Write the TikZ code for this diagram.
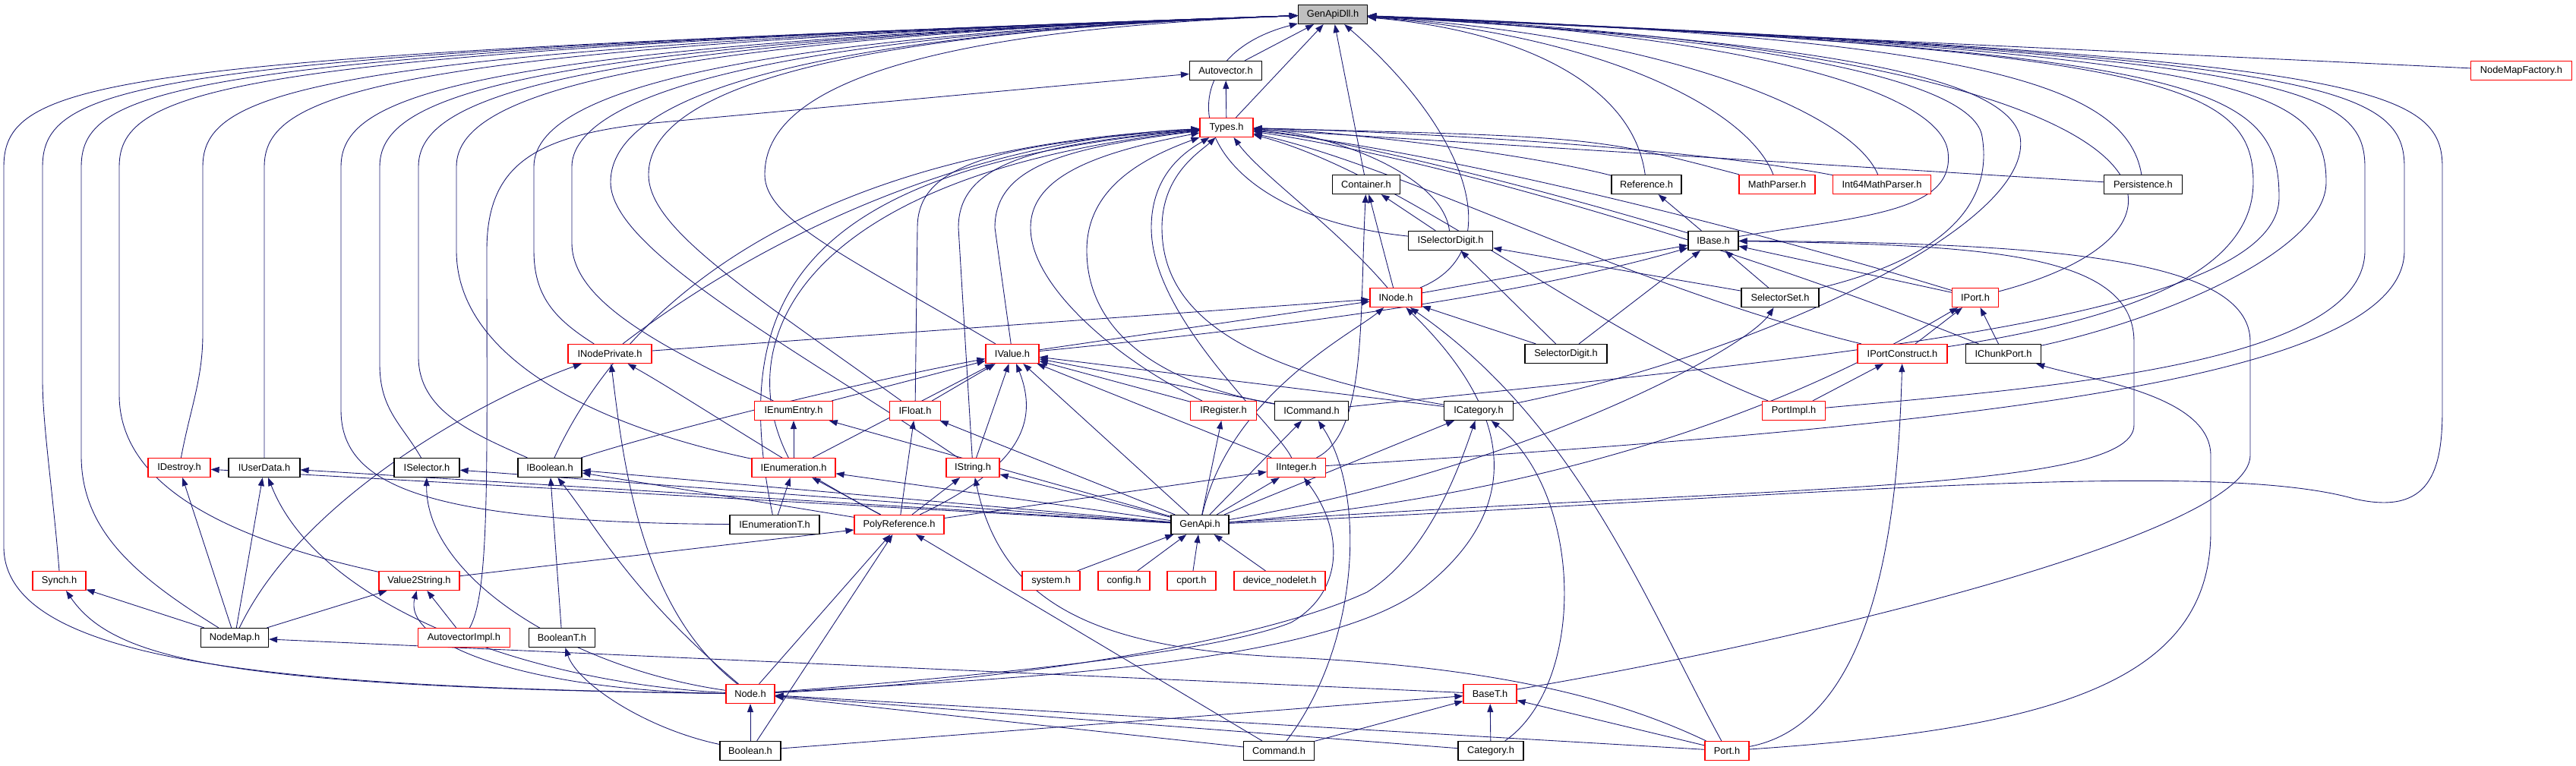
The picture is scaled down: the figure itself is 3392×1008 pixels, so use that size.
\documentclass[tikz,border=0pt]{standalone}
\usepackage{fontspec}
\setmainfont{Liberation Sans}
\usetikzlibrary{arrows.meta}
\definecolor{edgeblue}{RGB}{25,25,112}
\definecolor{hdrgray}{RGB}{191,191,191}
\pgfdeclarelayer{bg}
\pgfsetlayers{bg,main}
\begin{document}
\begin{tikzpicture}[x=0.02cm, y=-0.02cm,
    file/.style={draw=black, line width=0.7pt, fill=white, rectangle, minimum height=0.5cm, inner sep=1pt, font=\fontsize{7.3}{8}\selectfont},
    redfile/.style={file, draw=red},
    dep/.style={draw=edgeblue, line width=0.5pt, -{Triangle[length=0.22cm,width=0.16cm]}}]
    \useasboundingbox (0,0) rectangle (3392,1008);

    % Header files, top rows
    \node[file, fill=hdrgray, minimum width=1.82cm] (gd) at (1755,19) {GenApiDll.h};
    \node[file, minimum width=1.90cm] (av) at (1614,93) {Autovector.h};
    \node[redfile, minimum width=2.66cm] (nmf) at (3320,93) {NodeMapFactory.h};
    \node[redfile, minimum width=1.40cm] (ty) at (1615,168) {Types.h};
    \node[file, minimum width=1.78cm] (cont) at (1799,243) {Container.h};
    \node[file, minimum width=1.84cm] (ref) at (2168,243) {Reference.h};
    \node[redfile, minimum width=2.00cm] (mp) at (2340,243) {MathParser.h};
    \node[redfile, minimum width=2.58cm] (imp) at (2478,243) {Int64MathParser.h};
    \node[file, minimum width=2.06cm] (pers) at (2822,243) {Persistence.h};
    \node[file, minimum width=2.22cm] (isd) at (1910,317) {ISelectorDigit.h};
    \node[file, minimum width=1.32cm] (ibase) at (2256,317) {IBase.h};
    \node[redfile, minimum width=1.36cm] (inode) at (1838,392) {INode.h};
    \node[file, minimum width=2.04cm] (sset) at (2344,392) {SelectorSet.h};
    \node[redfile, minimum width=1.22cm] (iport) at (2601,392) {IPort.h};

    % Interface headers
    \node[redfile, minimum width=2.20cm] (inp) at (803,466) {INodePrivate.h};
    \node[redfile, minimum width=1.40cm] (ival) at (1333,466) {IValue.h};
    \node[file, minimum width=2.16cm] (sdig) at (2062,466) {SelectorDigit.h};
    \node[redfile, minimum width=2.36cm] (ipc) at (2505,466) {IPortConstruct.h};
    \node[file, minimum width=1.98cm] (icp) at (2638,466) {IChunkPort.h};
    \node[redfile, minimum width=2.06cm] (ient) at (1045,541) {IEnumEntry.h};
    \node[redfile, minimum width=1.34cm] (iflt) at (1205,541) {IFloat.h};
    \node[redfile, minimum width=1.74cm] (ireg) at (1611,541) {IRegister.h};
    \node[file, minimum width=1.94cm] (icmd) at (1727,541) {ICommand.h};
    \node[file, minimum width=1.82cm] (icat) at (1947,541) {ICategory.h};
    \node[redfile, minimum width=1.66cm] (pimpl) at (2362,541) {PortImpl.h};
    \node[redfile, minimum width=1.64cm] (ides) at (236,616) {IDestroy.h};
    \node[file, minimum width=1.88cm] (iud) at (348,616) {IUserData.h};
    \node[file, minimum width=1.72cm] (isel) at (562,616) {ISelector.h};
    \node[file, minimum width=1.68cm] (ibool) at (724,616) {IBoolean.h};
    \node[redfile, minimum width=2.20cm] (ienum) at (1045,616) {IEnumeration.h};
    \node[redfile, minimum width=1.40cm] (istr) at (1281,616) {IString.h};
    \node[redfile, minimum width=1.54cm] (iint) at (1707,616) {IInteger.h};
    \node[file, minimum width=2.36cm] (ientT) at (1020,691) {IEnumerationT.h};
    \node[redfile, minimum width=2.36cm] (poly) at (1184,691) {PolyReference.h};
    \node[file, minimum width=1.52cm] (ga) at (1580,691) {GenApi.h};

    % Implementation headers
    \node[redfile, minimum width=1.40cm] (synch) at (78,765) {Synch.h};
    \node[redfile, minimum width=2.12cm] (v2s) at (552,765) {Value2String.h};
    \node[redfile, minimum width=1.52cm] (sys) at (1384,765) {system.h};
    \node[redfile, minimum width=1.36cm] (cfg) at (1480,765) {config.h};
    \node[redfile, minimum width=1.28cm] (cport) at (1569,765) {cport.h};
    \node[redfile, minimum width=2.40cm] (devn) at (1685,765) {device\_nodelet.h};
    \node[file, minimum width=1.78cm] (nmap) at (309,840) {NodeMap.h};
    \node[redfile, minimum width=2.42cm] (avi) at (611,840) {AutovectorImpl.h};
    \node[file, minimum width=1.74cm] (boolT) at (740,840) {BooleanT.h};
    \node[redfile, minimum width=1.28cm] (node) at (988,914) {Node.h};
    \node[redfile, minimum width=1.40cm] (baseT) at (1962,914) {BaseT.h};
    \node[file, minimum width=1.60cm] (boolean) at (988,989) {Boolean.h};
    \node[file, minimum width=1.86cm] (cmd) at (1684,989) {Command.h};
    \node[file, minimum width=1.72cm] (cat) at (1963,989) {Category.h};
    \node[redfile, minimum width=1.16cm] (port) at (2274,989) {Port.h};

    \begin{pgfonlayer}{bg}
    % Includes of GenApiDll.h, left lanes
    \draw[dep] (node) .. controls (400,905) and (5,880) .. (5,720) -- (5,220) .. controls (5,100) and (150,75) .. (gd);
    \draw[dep] (synch.north) .. controls (70,650) and (56,560) .. (56,500) -- (56,220) .. controls (56,105) and (200,72) .. (gd);
    \draw[dep] (nmap) .. controls (180,760) and (107,700) .. (107,600) -- (107,220) .. controls (107,110) and (250,70) .. (gd);
    \draw[dep] (v2s) .. controls (300,710) and (157,640) .. (157,520) -- (157,220) .. controls (157,115) and (300,68) .. (gd);
    \draw[dep] (ides) .. controls (250,540) and (267,500) .. (267,440) -- (267,220) .. controls (267,120) and (400,65) .. (gd);
    \draw[dep] (iud) -- (348,220) .. controls (348,125) and (480,62) .. (gd);
    \draw[dep] (ientT) .. controls (560,688) and (449,640) .. (449,540) -- (449,220) .. controls (449,130) and (580,60) .. (gd);
    \draw[dep] (isel) .. controls (530,560) and (500,540) .. (500,480) -- (500,220) .. controls (500,135) and (630,58) .. (gd);
    \draw[dep] (ibool) .. controls (620,570) and (551,540) .. (551,470) -- (551,220) .. controls (551,140) and (680,56) .. (gd);
    \draw[dep] (ienum) .. controls (780,560) and (601,470) .. (601,330) -- (601,220) .. controls (601,145) and (730,54) .. (gd);
    \draw[dep] (inp) .. controls (730,420) and (703,390) .. (703,330) -- (703,220) .. controls (703,150) and (830,52) .. (gd);
    \draw[dep] (ient) .. controls (880,460) and (753,400) .. (753,320) -- (753,220) .. controls (753,155) and (880,50) .. (gd);
    \draw[dep] (istr) .. controls (1050,460) and (804,330) .. (804,240) .. controls (804,160) and (930,48) .. (gd);
    \draw[dep] (iflt) .. controls (980,380) and (854,300) .. (854,230) .. controls (854,150) and (980,46) .. (gd);
    \draw[dep] (ival) .. controls (1120,340) and (1007,290) .. (1007,230) .. controls (1007,150) and (1100,44) .. (gd);

    % Includes of GenApiDll.h, middle
    \draw[dep] (av) -- (gd);
    \draw[dep] (ty) -- (gd);
    \draw[dep] (cont) -- (gd);
    \draw[dep] (inode) .. controls (1990,330) and (1930,170) .. (gd);
    \draw[dep] (isd) .. controls (1560,280) and (1520,80) .. (gd);

    % Includes of GenApiDll.h, right lanes
    \draw[dep] (ref) .. controls (2150,110) and (2000,40) .. (gd);
    \draw[dep] (mp) .. controls (2300,140) and (2100,45) .. (gd);
    \draw[dep] (imp) .. controls (2440,150) and (2200,48) .. (gd);
    \draw[dep] (pers) .. controls (2800,110) and (2600,50) .. (gd);
    \draw[dep] (nmf) -- (gd);
    \draw[dep] (ibase) .. controls (2450,285) and (2575,280) .. (2565,200) .. controls (2555,120) and (2300,45) .. (gd);
    \draw[dep] (sset) .. controls (2600,330) and (2620,240) .. (2610,180) .. controls (2600,110) and (2350,50) .. (gd);
    \draw[dep] (iport) .. controls (2950,300) and (2900,70) .. (gd);
    \draw[dep] (icat) .. controls (2300,470) and (2680,300) .. (2660,180) .. controls (2640,100) and (2400,55) .. (gd);
    \draw[dep] (ipc) .. controls (2800,420) and (2967,360) .. (2967,240) .. controls (2967,110) and (2850,65) .. (gd);
    \draw[dep] (icmd) .. controls (2400,470) and (3001,420) .. (3001,260) .. controls (3001,110) and (2900,68) .. (gd);
    \draw[dep] (icp) .. controls (2850,420) and (3063,330) .. (3063,240) .. controls (3063,110) and (2950,70) .. (gd);
    \draw[dep] (pimpl) .. controls (2700,510) and (3114,480) .. (3114,330) -- (3114,220) .. controls (3114,110) and (3000,72) .. (gd);
    \draw[dep] (iint) .. controls (2600,560) and (3166,500) .. (3166,330) -- (3166,220) .. controls (3166,110) and (3050,74) .. (gd);
    \draw[dep] (ga) .. controls (2300,660) and (2900,600) .. (3100,657) .. controls (3200,680) and (3216,620) .. (3216,540) -- (3216,220) .. controls (3216,110) and (3100,76) .. (gd);

    % Autovector.h
    \draw[dep] (ty) -- (av);
    \draw[dep] (avi) .. controls (645,780) and (641,620) .. (641,330) .. controls (641,220) and (700,180) .. (850,163) -- (av);

    % Types.h
    \draw[dep] (inp) .. controls (980,330) and (1250,185) .. (ty);
    \draw[dep] (ienum) .. controls (960,450) and (1050,230) .. (ty);
    \draw[dep] (ientT) .. controls (960,400) and (1040,220) .. (ty);
    \draw[dep] (ibool) .. controls (800,450) and (1000,200) .. (ty);
    \draw[dep] (iflt) -- (1208,300) .. controls (1208,220) and (1300,190) .. (ty);
    \draw[dep] (istr) -- (1262,300) .. controls (1262,220) and (1350,190) .. (ty);
    \draw[dep] (ival) -- (1310,300) .. controls (1310,220) and (1400,195) .. (ty);
    \draw[dep] (ireg) .. controls (1480,480) and (1357,380) .. (1357,300) .. controls (1357,230) and (1450,200) .. (ty);
    \draw[dep] (icmd) .. controls (1500,500) and (1431,420) .. (1431,330) .. controls (1431,250) and (1500,210) .. (ty);
    \draw[dep] (iint) .. controls (1680,560) and (1516,420) .. (1516,300) .. controls (1516,230) and (1560,200) .. (ty);
    \draw[dep] (icat) .. controls (1650,490) and (1530,420) .. (1530,300) .. controls (1530,230) and (1580,200) .. (ty);
    \draw[dep] (inode) .. controls (1760,300) and (1660,230) .. (ty);
    \draw[dep] (isd) .. controls (1900,230) and (1750,175) .. (ty);
    \draw[dep] (ibase) .. controls (2000,240) and (1750,180) .. (ty);
    \draw[dep] (ref) .. controls (2000,200) and (1750,172) .. (ty);
    \draw[dep] (mp) .. controls (2100,180) .. (ty);
    \draw[dep] (imp) .. controls (2200,190) and (1800,172) .. (ty);
    \draw[dep] (pers) -- (ty);
    \draw[dep] (iport) .. controls (2300,300) and (1900,200) .. (ty);
    \draw[dep] (ipc) .. controls (2150,380) and (1850,220) .. (ty);
    \draw[dep] (icp) .. controls (2300,330) and (1900,210) .. (ty);
    \draw[dep] (pimpl) .. controls (2100,440) and (1850,230) .. (ty);

    % Container.h, Reference.h, ISelectorDigit.h
    \draw[dep] (inode) -- (cont);
    \draw[dep] (isd) -- (cont);
    \draw[dep] (iint) .. controls (1800,570) and (1790,420) .. (cont);
    \draw[dep] (ibase) -- (ref);
    \draw[dep] (sset) -- (isd);
    \draw[dep] (sdig) -- (isd);

    % IBase.h
    \draw[dep] (inode) -- (ibase);
    \draw[dep] (ival) .. controls (1700,430) and (2000,390) .. (ibase);
    \draw[dep] (sset) -- (ibase);
    \draw[dep] (sdig) -- (ibase);
    \draw[dep] (iport) -- (ibase);
    \draw[dep] (baseT) .. controls (2400,840) and (2963,700) .. (2963,600) -- (2963,450) .. controls (2963,340) and (2700,320) .. (ibase);
    \draw[dep] (ga) .. controls (2300,640) and (2810,650) .. (2810,560) -- (2810,450) .. controls (2810,330) and (2600,323) .. (ibase);

    % INode.h
    \draw[dep] (inp) -- (inode);
    \draw[dep] (ival) -- (inode);
    \draw[dep] (sdig) -- (inode);
    \draw[dep] (node) .. controls (1300,895) and (1750,880) .. (1880,770) .. controls (1990,680) and (2010,560) .. (inode);
    \draw[dep] (port) .. controls (2170,800) and (2080,560) .. (inode);
    \draw[dep] (ga) .. controls (1620,520) and (1780,440) .. (inode);

    % SelectorSet.h, IPort.h
    \draw[dep] (ga) .. controls (2000,620) and (2300,460) .. (sset);
    \draw[dep] (ipc) -- (iport);
    \draw[dep] (icp) -- (iport);
    \draw[dep] (ga) .. controls (2200,640) and (2500,450) .. (iport);

    % INodePrivate.h
    \draw[dep] (nmap) .. controls (400,650) and (650,520) .. (inp);
    \draw[dep] (node) .. controls (840,800) and (820,600) .. (inp);
    \draw[dep] (poly) .. controls (1050,620) and (900,520) .. (inp);

    % IValue.h
    \draw[dep] (ient) -- (ival);
    \draw[dep] (iflt) -- (ival);
    \draw[dep] (ireg) -- (ival);
    \draw[dep] (icmd) -- (ival);
    \draw[dep] (icat) -- (ival);
    \draw[dep] (ibool) .. controls (900,560) and (1150,500) .. (ival);
    \draw[dep] (ienum) -- (ival);
    \draw[dep] (istr) -- (ival);
    \draw[dep] (iint) -- (ival);
    \draw[dep] (poly) .. controls (1338,617) and (1370,560) .. (ival);
    \draw[dep] (ga) -- (ival);

    % IPortConstruct.h, IChunkPort.h
    \draw[dep] (pimpl) -- (ipc);
    \draw[dep] (port) .. controls (2480,950) and (2500,650) .. (ipc);
    \draw[dep] (port) .. controls (2700,960) and (2911,900) .. (2911,700) -- (2911,600) .. controls (2911,520) and (2750,500) .. (icp);

    % IEnumEntry.h, IFloat.h, IRegister.h, ICommand.h, ICategory.h
    \draw[dep] (ienum) -- (ient);
    \draw[dep] (ga) -- (ient);
    \draw[dep] (poly) -- (iflt);
    \draw[dep] (ga) -- (iflt);
    \draw[dep] (ga) -- (ireg);
    \draw[dep] (ga) -- (icmd);
    \draw[dep] (cmd) .. controls (1790,850) and (1800,650) .. (icmd);
    \draw[dep] (ga) -- (icat);
    \draw[dep] (node) .. controls (1300,900) and (1650,850) .. (1800,780) .. controls (1880,730) and (1920,620) .. (icat);
    \draw[dep] (cat) .. controls (2090,900) and (2085,650) .. (icat);

    % IDestroy.h, IUserData.h, ISelector.h, IBoolean.h
    \draw[dep] (ga) -- (ides);
    \draw[dep] (ga) -- (iud);
    \draw[dep] (ga) -- (isel);
    \draw[dep] (ga) -- (ibool);
    \draw[dep] (nmap) -- (ides);
    \draw[dep] (nmap) -- (iud);
    \draw[dep] (node) .. controls (700,900) and (420,800) .. (iud);
    \draw[dep] (node) .. controls (750,880) and (560,760) .. (isel);
    \draw[dep] (poly) -- (ibool);
    \draw[dep] (node) .. controls (830,780) and (790,700) .. (ibool);
    \draw[dep] (boolT) -- (ibool);

    % IEnumeration.h, IString.h, IInteger.h
    \draw[dep] (ientT) -- (ienum);
    \draw[dep] (poly) -- (ienum);
    \draw[dep] (ga) -- (ienum);
    \draw[dep] (poly) -- (istr);
    \draw[dep] (ga) -- (istr);
    \draw[dep] (port) .. controls (2150,930) and (2000,880) .. (1700,866) .. controls (1450,855) and (1320,800) .. (istr);
    \draw[dep] (poly) -- (iint);
    \draw[dep] (ga) -- (iint);
    \draw[dep] (node) .. controls (1300,890) and (1600,860) .. (1700,820) .. controls (1770,780) and (1770,700) .. (iint);

    % PolyReference.h, GenApi.h
    \draw[dep] (v2s) -- (poly);
    \draw[dep] (node) -- (poly);
    \draw[dep] (boolean) -- (poly);
    \draw[dep] (cmd) -- (poly);
    \draw[dep] (sys) -- (ga);
    \draw[dep] (cfg) -- (ga);
    \draw[dep] (cport) -- (ga);
    \draw[dep] (devn) -- (ga);

    % Synch.h, Value2String.h, NodeMap.h, BooleanT.h
    \draw[dep] (nmap) -- (synch);
    \draw[dep] (node) .. controls (300,905) and (150,870) .. (synch);
    \draw[dep] (nmap) -- (v2s);
    \draw[dep] (avi) -- (v2s);
    \draw[dep] (node) .. controls (700,910) and (530,850) .. (v2s);
    \draw[dep] (baseT) -- (nmap);
    \draw[dep] (boolean) .. controls (850,960) and (760,900) .. (boolT);

    % Node.h, BaseT.h
    \draw[dep] (boolean) -- (node);
    \draw[dep] (cmd) -- (node);
    \draw[dep] (cat) -- (node);
    \draw[dep] (port) -- (node);
    \draw[dep] (boolean) -- (baseT);
    \draw[dep] (cmd) -- (baseT);
    \draw[dep] (cat) -- (baseT);
    \draw[dep] (port) -- (baseT);
    \end{pgfonlayer}
\end{tikzpicture}
\end{document}
